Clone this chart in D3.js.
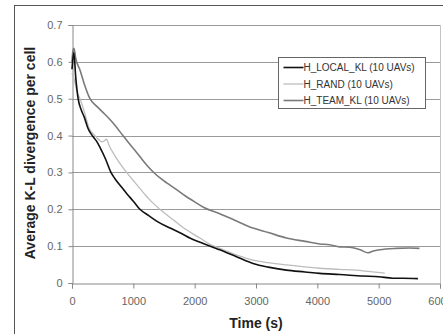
<!DOCTYPE html>
<html>
<head>
<meta charset="utf-8">
<script src="https://cdn.jsdelivr.net/npm/d3@7"></script>
<style>
  html, body { margin: 0; padding: 0; background: #fff; }
  svg { display: block; font-family: "Liberation Sans", Arial, sans-serif; }
</style>
</head>
<body>
<svg width="443" height="334"></svg>
<script>
// time (s), average K-L divergence per cell
const localKL = [[0,0.58],[30,0.625],[60,0.56],[100,0.50],[150,0.47],[200,0.45],[260,0.42],[330,0.40],[400,0.385],[456,0.368],[550,0.335],[635,0.30],[700,0.283],[800,0.262],[900,0.241],[1000,0.222],[1107,0.20],[1250,0.183],[1400,0.166],[1600,0.149],[1800,0.133],[1921,0.122],[2100,0.11],[2410,0.09],[2700,0.07],[2952,0.053],[3200,0.043],[3495,0.035],[3800,0.03],[4038,0.026],[4364,0.023],[4743,0.019],[5000,0.017],[5232,0.013],[5400,0.013],[5640,0.012]]
const rand = [[0,0.57],[40,0.55],[80,0.52],[130,0.50],[200,0.465],[280,0.42],[374,0.40],[430,0.39],[490,0.383],[530,0.386],[565,0.39],[600,0.375],[700,0.345],[800,0.32],[890,0.30],[1000,0.278],[1100,0.258],[1200,0.238],[1300,0.22],[1433,0.20],[1600,0.178],[1800,0.152],[2084,0.122],[2250,0.105],[2410,0.094],[2700,0.075],[2952,0.062],[3200,0.055],[3495,0.049],[3800,0.044],[4038,0.04],[4364,0.037],[4743,0.033],[4900,0.03],[5100,0.027]]
const teamKL = [[0,0.60],[15,0.63],[33,0.637],[60,0.61],[130,0.578],[200,0.54],[293,0.50],[400,0.48],[505,0.463],[600,0.447],[700,0.428],[830,0.40],[950,0.375],[1050,0.355],[1150,0.334],[1250,0.314],[1350,0.297],[1450,0.283],[1550,0.271],[1700,0.254],[1850,0.236],[2000,0.22],[2150,0.205],[2410,0.188],[2700,0.167],[2952,0.149],[3200,0.137],[3495,0.122],[3800,0.113],[4038,0.106],[4200,0.104],[4364,0.098],[4526,0.097],[4700,0.09],[4825,0.082],[4900,0.086],[5015,0.09],[5286,0.094],[5500,0.095],[5666,0.094]]

const seriesNames = ["H_LOCAL_KL (10 UAVs)", "H_RAND (10 UAVs)", "H_TEAM_KL (10 UAVs)"]
const seriesColors = ["#111", "#bdbdbd", "#7a7a7a"]
const xTicks = [0, 1000, 2000, 3000, 4000, 5000, 6000]
const yTicks = [0, 0.1, 0.2, 0.3, 0.4, 0.5, 0.6, 0.7]

const margin = {top: 25, right: 3, bottom: 51, left: 72}
const height = 334 - margin.top - margin.bottom

const svg = d3.select("svg")

// outer chart frame (right/bottom edges fall outside the picture)
svg.append("rect")
  .attr("x", 14.5).attr("y", 5.5)
  .attr("width", 440).attr("height", 340)
  .attr("fill", "none").attr("stroke", "#555")

const g = svg.append("g")
  .attr("transform", "translate(" + margin.left + "," + margin.top + ")")

const x = d3.scaleLinear().domain([0, 6000]).range([0, 368])
const y = d3.scaleLinear().domain([0, 0.7]).range([height, 0])

// grid
g.selectAll(".grid")
  .data(yTicks.filter(d => d > 0))
  .enter().append("line")
  .attr("class", "grid")
  .attr("x1", 0).attr("x2", x(6000))
  .attr("y1", d => Math.round(y(d)) + 0.5).attr("y2", d => Math.round(y(d)) + 0.5)
  .attr("stroke", "#9a9a9a").attr("stroke-width", 1.2)

// right border of plot area
g.append("line")
  .attr("x1", x(6000) + 0.5).attr("x2", x(6000) + 0.5)
  .attr("y1", y(0.7)).attr("y2", height)
  .attr("stroke", "#c4c4c4")

// axes
const xAxis = g.append("g")
  .attr("transform", "translate(0," + (Math.round(height) + 0.5) + ")")
  .call(d3.axisBottom(x).tickValues(xTicks).tickSize(5).tickPadding(9).tickFormat(d3.format("d")))
const yAxis = g.append("g")
  .attr("transform", "translate(0.5,0)")
  .call(d3.axisLeft(y).tickValues(yTicks).tickSize(4).tickPadding(6).tickFormat(d => d === 0 ? "0" : d3.format(".1f")(d)))

;[xAxis, yAxis].forEach(a => {
  a.select(".domain").attr("stroke", "#888")
  a.selectAll(".tick line").attr("stroke", "#888")
  a.selectAll(".tick text").attr("fill", "#666").style("font-size", "11px")
    .style("font-family", "'Liberation Sans', Arial, sans-serif")
})

// lines
const line = d3.line()
  .curve(d3.curveMonotoneX)
  .x(d => x(d[0]))
  .y(d => y(d[1]))

const allSeries = [localKL, rand, teamKL]
const drawOrder = [2, 1, 0]
drawOrder.forEach(i => {
  g.append("path")
    .datum(allSeries[i])
    .attr("fill", "none")
    .attr("stroke", seriesColors[i])
    .attr("stroke-width", i === 1 ? 1.3 : 1.6)
    .attr("stroke-linejoin", "round")
    .attr("d", line)
})

// axis titles
svg.append("text")
  .attr("x", margin.left + 184).attr("y", 328)
  .attr("text-anchor", "middle")
  .attr("fill", "#222")
  .style("font-size", "14px").style("font-weight", "bold")
  .text("Time (s)")

svg.append("text")
  .attr("transform", "translate(35," + (margin.top + 128) + ") rotate(-90)")
  .attr("text-anchor", "middle")
  .attr("fill", "#222")
  .style("font-size", "14px").style("font-weight", "bold")
  .text("Average K-L divergence per cell")

// legend
const legend = svg.append("g").attr("transform", "translate(278.5,57.5)")
legend.append("rect")
  .attr("width", 147).attr("height", 51)
  .attr("fill", "#fff").attr("stroke", "#666")

seriesNames.forEach((name, i) => {
  const row = legend.append("g").attr("transform", "translate(0," + (10 + i * 16.5) + ")")
  row.append("line")
    .attr("x1", 5).attr("x2", 25)
    .attr("stroke", seriesColors[i]).attr("stroke-width", i === 1 ? 1.3 : 1.6)
  row.append("text")
    .attr("x", 25).attr("y", 3.5)
    .attr("fill", "#333")
    .style("font-size", "10px")
    .text(name)
})
</script>
</body>
</html>
